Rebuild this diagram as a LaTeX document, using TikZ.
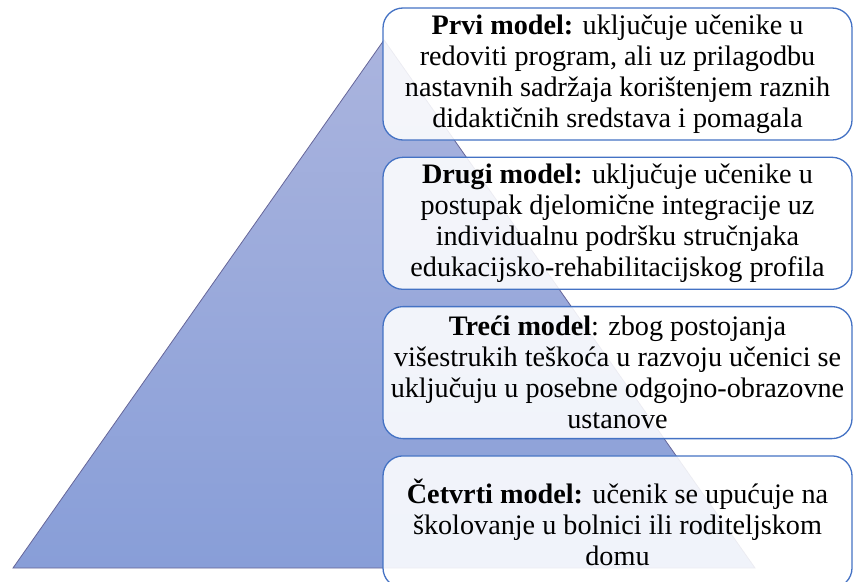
\documentclass[tikz,border=0pt]{standalone}
\usepackage{fontspec}
\setmainfont{Liberation Serif}
\usetikzlibrary{positioning}
\definecolor{boxblue}{HTML}{4472C4}
\definecolor{pyrtop}{HTML}{AAB4DE}
\definecolor{pyrbot}{HTML}{889ED8}
\tikzset{
  modelbox/.style={draw=boxblue,line width=1.3pt,rounded corners=20pt,fill=white,
    fill opacity=0.88,text opacity=1,minimum width=469pt,minimum height=132pt,
    inner sep=0pt,align=center,font=\fontsize{28.2}{31}\selectfont}
}
\begin{document}
\begin{tikzpicture}[x=1pt,y=-1pt]
  \useasboundingbox (0,0) rectangle (853,581);
  \draw[gray!80!blue,line width=0.8pt,top color=pyrtop,bottom color=pyrbot]
    (384,40) -- (13,568) -- (755,568) -- cycle;
  \node[modelbox] (prvi) at (617.5,74)
    {\textbf{Prvi model:} uključuje učenike u\\redoviti program, ali uz prilagodbu\\nastavnih sadržaja korištenjem raznih\\didaktičnih sredstava i pomagala};
  \node[modelbox,below=16pt of prvi] (drugi)
    {\textbf{Drugi model:} uključuje učenike u\\postupak djelomične integracije uz\\individualnu podršku stručnjaka\\edukacijsko-rehabilitacijskog profila};
  \node[modelbox,below=16pt of drugi] (treci)
    {\textbf{Treći model}: zbog postojanja\\višestrukih teškoća u razvoju učenici se\\uključuju u posebne odgojno-obrazovne\\ustanove};
  \node[modelbox,below=16pt of treci] (cetvrti)
    {\textbf{Četvrti model:} učenik se upućuje na\\školovanje u bolnici ili roditeljskom\\domu};
\end{tikzpicture}
\end{document}
